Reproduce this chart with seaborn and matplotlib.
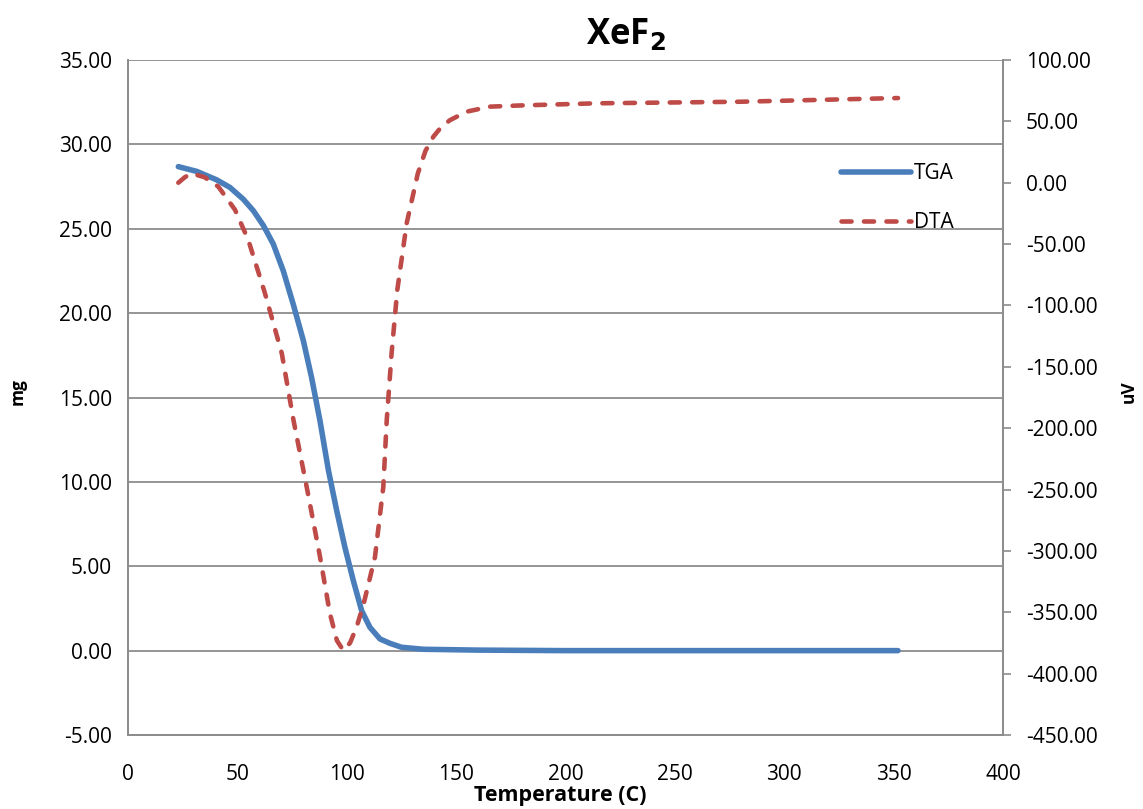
import matplotlib
matplotlib.use("Agg")
import matplotlib.pyplot as plt
import seaborn as sns
import pandas as pd
import numpy as np

# TGA data (mg vs temperature C)
tga_temp = [23.0, 31.4, 40.5, 46.6, 52.7, 57.3, 61.9, 66.4, 71.0, 75.6, 80.1, 83.9, 87.8, 91.6, 95.4, 99.2,
            103.0, 106.8, 110.6, 115.2, 119.8, 125, 135, 160, 200, 250, 300, 352]
tga_mg = [28.68, 28.4, 27.9, 27.45, 26.75, 26.07, 25.19, 24.1, 22.5, 20.5, 18.4, 16.2, 13.6, 10.7, 8.3, 6.1,
          4.15, 2.37, 1.38, 0.69, 0.43, 0.2, 0.08, 0.03, 0.0, 0.0, 0.0, 0.0]

# DTA data (uV vs temperature C)
dta_temp = [23, 26, 29, 35, 41.3, 48.9, 55, 62.6, 70.3, 75.6, 81.7, 87.8, 92.3, 95.5, 98.4, 101.5, 104.5, 107.6,
            112.9, 116.7, 118.3, 120.5, 123.1, 127.4, 132.5, 136, 139.6, 143, 147.2, 154.8, 165.5, 180, 214, 280, 352]
dta_uv = [0, 4.5, 7.6, 4.5, -3.2, -22, -46.7, -90, -139, -193, -248, -305, -351, -373, -381, -375, -362, -344,
          -305, -248, -193, -139, -87.5, -33, 7.6, 26, 37.5, 45, 51, 57.9, 62, 63, 64.7, 66, 69]

sns.set_theme(style="white")
plt.rcParams['font.family'] = ['Open Sans', 'DejaVu Sans']
plt.rcParams['axes.unicode_minus'] = False
plt.rcParams['text.color'] = 'black'

fig = plt.figure(figsize=(11.43, 8.09), dpi=100)
ax = fig.add_axes([128/1143, 1 - 735/809, (1003-128)/1143, (735-60)/809])
ax2 = ax.twinx()

tga_df = pd.DataFrame({"T": tga_temp, "v": tga_mg})
dta_df = pd.DataFrame({"T": dta_temp, "v": dta_uv})

blue = "#4a7ebb"
red = "#be4b48"

sns.lineplot(data=tga_df, x="T", y="v", ax=ax, color=blue, linewidth=4.0, label="TGA", legend=False)
sns.lineplot(data=dta_df, x="T", y="v", ax=ax2, color=red, linewidth=3.3, label="DTA", legend=False)
for ln in (ax.lines[0], ax2.lines[0]):
    ln.set_solid_joinstyle("round")
    ln.set_solid_capstyle("round")
ax2.lines[0].set_dashes([2.2, 2.7])
ax2.lines[0].set_dash_capstyle("round")

ax.set_xlim(0, 400)
ax.set_ylim(-5, 35)
ax2.set_ylim(-450, 100)

fs = 15
xt = np.arange(0, 401, 50)
yt = np.arange(-5, 35.1, 5)
y2t = np.arange(-450, 100.1, 50)
ax.set_xticks(xt)
ax.set_yticks(yt)
ax2.set_yticks(y2t)
ax.set_yticklabels([f"{v:.2f}" for v in yt], fontsize=fs)
ax2.set_yticklabels([f"{v:.2f}" for v in y2t], fontsize=fs)
ax.set_xticklabels([f"{int(v)}" for v in xt], fontsize=fs)

ax.yaxis.grid(True, color="#8c8c8c", linewidth=1.3)
ax.xaxis.grid(False)
ax2.grid(False)

for a in (ax, ax2):
    for s in a.spines.values():
        s.set_color("#8c8c8c")
        s.set_linewidth(1.3)
    a.spines["top"].set_visible(False)
    a.tick_params(colors="#8c8c8c", labelcolor="black", width=1.2, direction="out")
ax.tick_params(axis="y", left=False, length=0, pad=11.5)
ax.tick_params(axis="x", bottom=False, length=0, pad=21)
ax2.tick_params(axis="y", right=True, length=5.5, pad=11)

ax.set_xlabel("Temperature (C)", fontsize=15.5, fontweight="bold", color="black")
ax.xaxis.set_label_coords(0.5 + (560 - 565.5) / 875, -(796 - 735) / 675)
ax.xaxis.label.set_va("center")
ax.set_ylabel("mg", fontsize=12.5, fontweight="bold", color="black")
ax.yaxis.set_label_coords(-(128 - 18) / 875, (735 - 392) / 675)
ax.yaxis.label.set_va("center")
ax2.set_ylabel("uV", fontsize=12.5, fontweight="bold", color="black")
ax2.yaxis.set_label_coords(1 + (1129 - 1003) / 875, (735 - 392) / 675)
ax2.yaxis.label.set_va("center")

fig.text(626 / 1143, 1 - 35 / 809, r"XeF$_\mathbf{2}$", ha="center", va="center",
         fontsize=25, fontweight="bold", color="black")

handles = [ax.lines[0], ax2.lines[0]]
leg = ax.legend(handles, ["TGA", "DTA"], loc="upper left", bbox_to_anchor=(0.7932, 0.8746), frameon=False,
                fontsize=fs, handlelength=3.36, labelspacing=1.34, handletextpad=0.15)
for t in leg.get_texts():
    t.set_color("black")

fig.savefig("out.png", dpi=100, facecolor="white")
